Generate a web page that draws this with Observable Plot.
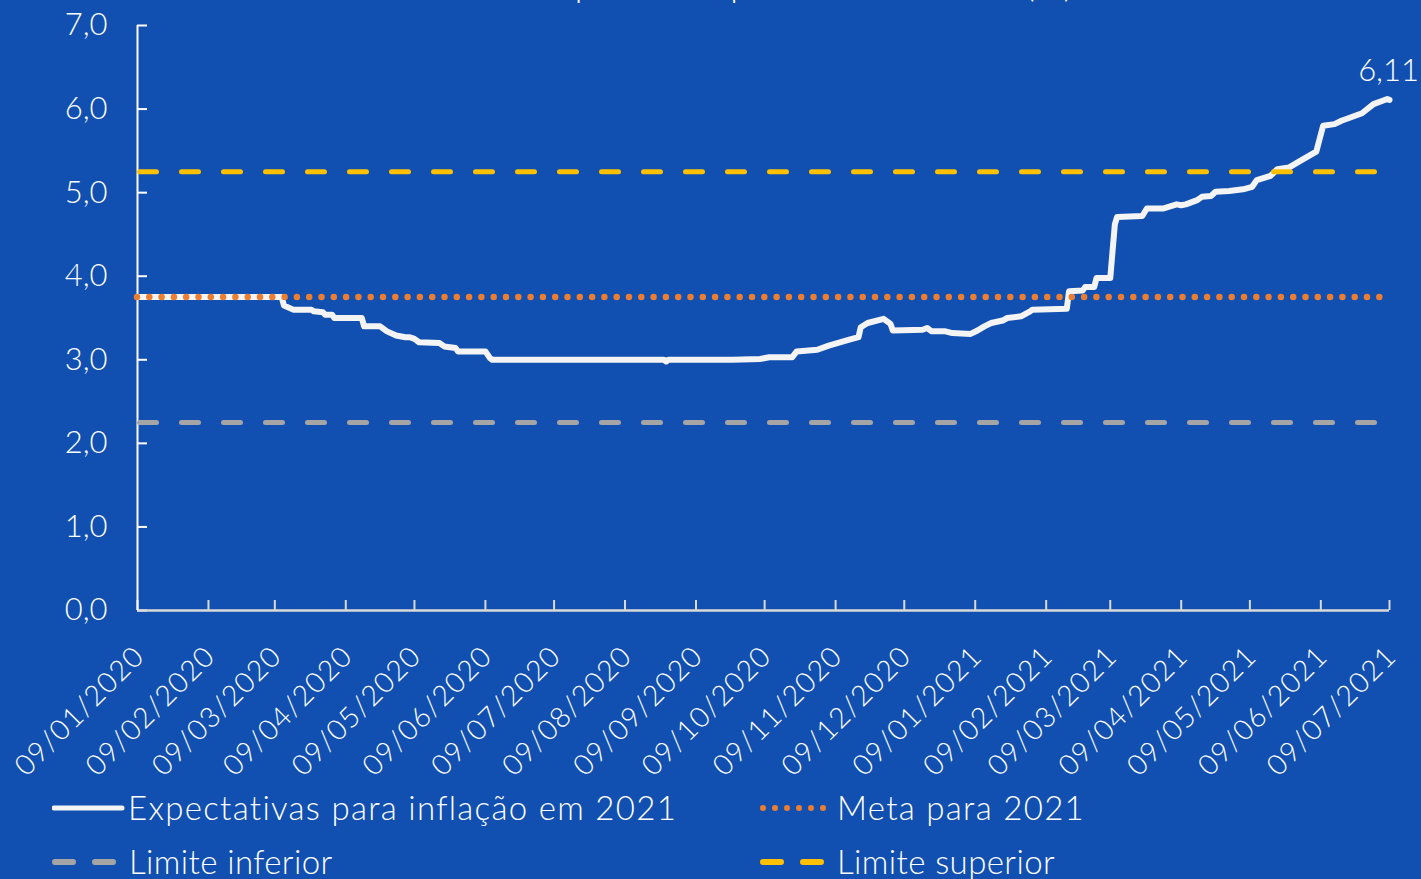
<!DOCTYPE html>
<html>
<head>
<meta charset="utf-8">
<script src="https://cdn.jsdelivr.net/npm/d3@7"></script>
<script src="https://cdn.jsdelivr.net/npm/@observablehq/plot@0.6"></script>
<style>
  html, body { margin: 0; padding: 0; background: #1150B1; overflow: hidden; }
  body { width: 1421px; height: 879px; position: relative; font-family: "Lato", "Open Sans", sans-serif; font-weight: 300; color: #fff; }
  #title { position: absolute; left: 0; width: 1421px; top: -38px; font-size: 36px; line-height: 43px; white-space: nowrap; }
  #title span { position: absolute; left: 536px; letter-spacing: 0.5px; }
  #chart { position: absolute; left: 0; top: 0; }
  .leg { position: absolute; font-size: 33px; line-height: 40px; white-space: nowrap; letter-spacing: 1.3px; }
  .leg.short { letter-spacing: 0.4px; }
  .sw { position: absolute; }
</style>
</head>
<body>
<div id="title"><span>Expectativa para o IPCA 2021 (%)</span></div>
<div id="chart"></div>
<div id="legend"></div>
<script>
// ---- data ----
const dates = [
  "2020-01-09","2020-03-12","2020-03-13","2020-03-17","2020-03-25","2020-03-26","2020-03-30","2020-03-31",
  "2020-04-03","2020-04-04","2020-04-16","2020-04-17","2020-04-24","2020-04-27","2020-05-01","2020-05-05",
  "2020-05-07","2020-05-09","2020-05-11","2020-05-20","2020-05-22","2020-05-27","2020-05-28","2020-06-09",
  "2020-06-11","2020-06-12","2020-08-26","2020-08-27","2020-08-28","2020-09-11","2020-09-25","2020-10-07",
  "2020-10-11","2020-10-21","2020-10-23","2020-11-01","2020-11-06","2020-11-15","2020-11-19","2020-11-20",
  "2020-11-23","2020-11-30","2020-12-03","2020-12-04","2020-12-17","2020-12-19","2020-12-21","2020-12-27",
  "2020-12-30","2021-01-07","2021-01-10","2021-01-13","2021-01-16","2021-01-21","2021-01-23","2021-01-29",
  "2021-02-02","2021-02-03","2021-02-18","2021-02-19","2021-02-25","2021-02-26","2021-03-02","2021-03-03",
  "2021-03-09","2021-03-11","2021-03-12","2021-03-23","2021-03-25","2021-04-01","2021-04-07","2021-04-09",
  "2021-04-11","2021-04-16","2021-04-18","2021-04-22","2021-04-24","2021-04-30","2021-05-06","2021-05-10",
  "2021-05-12","2021-05-18","2021-05-21","2021-05-26","2021-05-31","2021-06-07","2021-06-10","2021-06-15",
  "2021-06-18","2021-06-24","2021-06-27","2021-07-02","2021-07-06","2021-07-08","2021-07-09"
];
const expectativas = [
  3.75,3.75,3.65,3.60,3.60,3.58,3.57,3.54,
  3.54,3.50,3.50,3.40,3.40,3.34,3.29,3.27,
  3.27,3.25,3.21,3.20,3.16,3.14,3.10,3.10,
  3.02,3.00,3.00,2.98,3.00,3.00,3.00,3.01,
  3.03,3.03,3.10,3.12,3.17,3.24,3.27,3.39,
  3.44,3.49,3.43,3.35,3.36,3.38,3.34,3.34,
  3.32,3.31,3.35,3.40,3.44,3.47,3.50,3.52,
  3.58,3.60,3.61,3.82,3.83,3.87,3.87,3.98,
  3.98,4.62,4.71,4.72,4.81,4.81,4.86,4.85,
  4.86,4.91,4.95,4.96,5.01,5.02,5.04,5.07,
  5.15,5.20,5.28,5.30,5.38,5.49,5.80,5.82,
  5.86,5.92,5.95,6.06,6.10,6.12,6.11
];
const meta = 3.75;
const limiteInferior = 2.25;
const limiteSuperior = 5.25;
const lastLabel = "6,11";
const yTicks = [0,1,2,3,4,5,6,7];
const xTicks = [
  "2020-01-09","2020-02-09","2020-03-09","2020-04-09","2020-05-09","2020-06-09","2020-07-09",
  "2020-08-09","2020-09-09","2020-10-09","2020-11-09","2020-12-09","2021-01-09","2021-02-09",
  "2021-03-09","2021-04-09","2021-05-09","2021-06-09","2021-07-09"
];
const legendLabels = ["Expectativas para inflação em 2021","Meta para 2021","Limite inferior","Limite superior"];

// ---- build ----
const parse = d3.utcParse("%Y-%m-%d");
const series = dates.map((d, i) => ({date: parse(d), value: expectativas[i]}));
const tickDates = xTicks.map(parse);
const fmtX = d3.utcFormat("%d/%m/%Y");
const fmtY = d => d.toFixed(1).replace(".", ",");
const last = series[series.length - 1];

const FONT = '"Lato", "Open Sans", sans-serif';
const chart = Plot.plot({
  width: 1421,
  height: 785,
  marginLeft: 137,
  marginRight: 32,
  marginTop: 25,
  marginBottom: 175,
  style: {background: "transparent", color: "#fff", fontFamily: FONT, fontWeight: 300},
  x: {type: "utc", domain: [tickDates[0], tickDates[tickDates.length - 1]]},
  y: {domain: [0, 7]},
  marks: [
    // y ticks (inward) and labels
    Plot.axisY(yTicks, {anchor: "left", tickSize: 10, dx: 10, tickFormat: () => "", stroke: "#fff", strokeWidth: 2, label: null}),
    Plot.axisY(yTicks, {anchor: "left", tickSize: 0, tickPadding: 30, tickFormat: fmtY, fontSize: 31, fill: "#fff", label: null}),
    // x ticks (inward)
    Plot.axisX(tickDates, {anchor: "bottom", tickSize: 10, dy: -10, tickFormat: () => "", stroke: "#d9d9d9", strokeWidth: 2, label: null}),
    Plot.text(tickDates, {x: d => d, frameAnchor: "bottom", text: d => fmtX(d), rotate: -45, textAnchor: "end", lineAnchor: "middle", dx: 2, dy: 41, fontSize: 28.5, fill: "#fff"}),
    // axis lines
    Plot.ruleY([0], {stroke: "#d9d9d9", strokeWidth: 2.5}),
    Plot.ruleX([tickDates[0]], {stroke: "#fff", strokeWidth: 2}),
    // main series
    Plot.line(series, {x: "date", y: "value", stroke: "#f4f4f4", strokeWidth: 6, strokeLinejoin: "round", strokeLinecap: "round"}),
    // reference lines
    Plot.ruleY([meta], {stroke: "#ED7D31", strokeWidth: 6.5, strokeDasharray: "0 12.3", strokeLinecap: "round"}),
    Plot.ruleY([limiteInferior], {stroke: "#A5A5A5", strokeWidth: 5, strokeDasharray: "17 25", strokeDashoffset: -2.5, strokeLinecap: "round"}),
    Plot.ruleY([limiteSuperior], {stroke: "#FFC000", strokeWidth: 5, strokeDasharray: "17 25", strokeDashoffset: -2.5, strokeLinecap: "round"}),
    // last value label
    Plot.text([last], {x: "date", y: "value", text: () => lastLabel, dy: -29, dx: -1, fontSize: 31, fill: "#fff", textAnchor: "middle"})
  ]
});
d3.select(chart).selectAll("g[aria-label='text']").filter(function () {
  return d3.select(this).selectAll("text").size() === tickDates.length;
}).style("letter-spacing", "1.2px");
document.getElementById("chart").appendChild(chart);

// ---- legend ----
const legend = document.getElementById("legend");
const items = [
  {label: legendLabels[0], x: 52, y: 808, type: "solid", color: "#f4f4f4", cls: ""},
  {label: legendLabels[1], x: 760, y: 808, type: "dot", color: "#ED7D31", cls: ""},
  {label: legendLabels[2], x: 52, y: 862, type: "dash", color: "#A5A5A5", cls: "short"},
  {label: legendLabels[3], x: 760, y: 862, type: "dash", color: "#FFC000", cls: "short"}
];
for (const it of items) {
  const svg = d3.create("svg").attr("class", "sw").attr("width", 76).attr("height", 12)
    .style("left", it.x + "px").style("top", (it.y - 6) + "px");
  const ln = svg.append("line").attr("y1", 6).attr("y2", 6).attr("stroke", it.color).attr("stroke-linecap", "round");
  if (it.type === "solid") ln.attr("x1", 2).attr("x2", 70).attr("stroke-width", 5);
  if (it.type === "dot") ln.attr("x1", 3).attr("x2", 66).attr("stroke-width", 6).attr("stroke-dasharray", "0 12");
  if (it.type === "dash") ln.attr("x1", 3).attr("x2", 63).attr("stroke-width", 6).attr("stroke-dasharray", "18 22");
  legend.appendChild(svg.node());
  const t = document.createElement("div");
  t.className = "leg " + it.cls;
  t.textContent = it.label;
  t.style.left = (it.x + (it.type === "solid" ? 76 : 77)) + "px";
  t.style.top = (it.y - 21) + "px";
  legend.appendChild(t);
}
</script>
</body>
</html>
